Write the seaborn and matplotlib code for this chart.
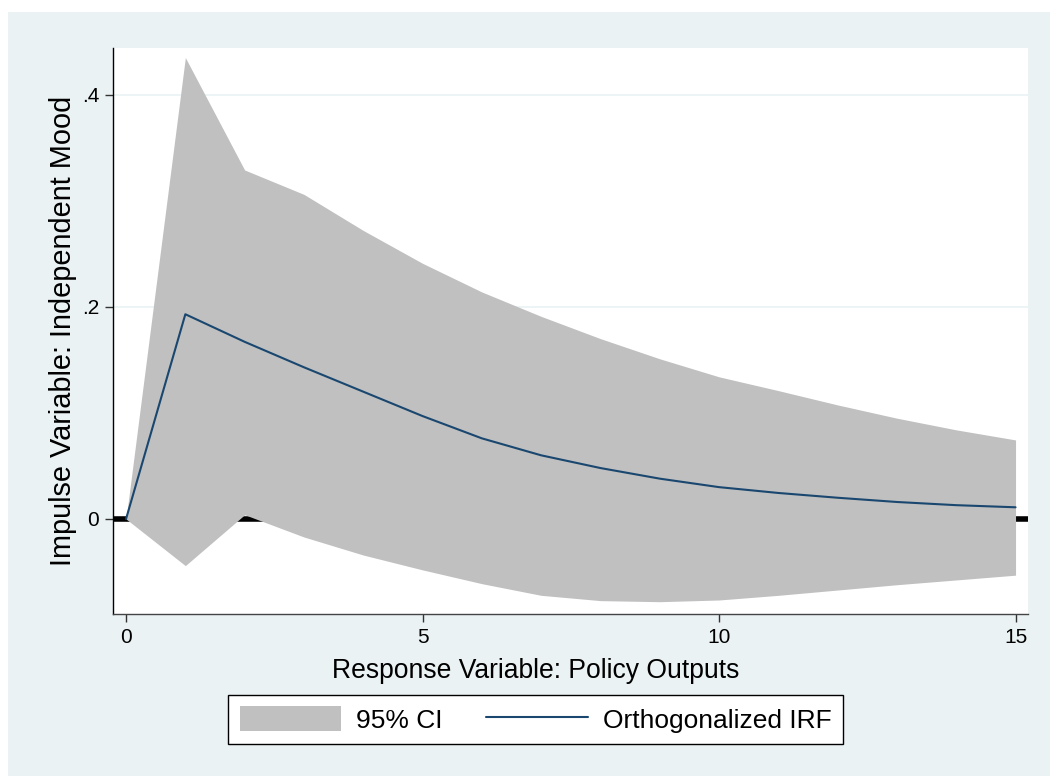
import numpy as np
import pandas as pd
import matplotlib
matplotlib.use("Agg")
import matplotlib.pyplot as plt
import seaborn as sns
from matplotlib.patches import Rectangle, Patch
from matplotlib.lines import Line2D

# impulse response, steps 0..15
steps = list(range(16))
irf = [0.0, 0.193, 0.167, 0.143, 0.120, 0.097, 0.076, 0.060, 0.048,
       0.038, 0.030, 0.0245, 0.020, 0.016, 0.013, 0.011]
ci_upper = [0.0, 0.435, 0.329, 0.306, 0.272, 0.241, 0.214, 0.191, 0.170,
            0.151, 0.134, 0.121, 0.1075, 0.095, 0.084, 0.0745]
ci_lower = [0.0, -0.044, 0.004, -0.017, -0.034, -0.048, -0.061, -0.072,
            -0.077, -0.078, -0.0764, -0.072, -0.067, -0.062, -0.0575, -0.053]
y_ticks = [0, 0.2, 0.4]
y_ticklabels = ['0', '.2', '.4']
x_ticks = [0, 5, 10, 15]

df = pd.DataFrame({'step': steps, 'irf': irf, 'lo': ci_lower, 'hi': ci_upper})

sns.set_style("white")
plt.rcParams['font.family'] = ['Liberation Sans', 'DejaVu Sans']

bg = '#EAF2F3'
fill_col = '#C0C0C0'
line_col = '#1A476F'

fig = plt.figure(figsize=(10.5, 7.76), dpi=100, facecolor='white')
fig.patches.append(Rectangle((8 / 1050, 0), 1, (776 - 12) / 776,
                             transform=fig.transFigure, facecolor=bg,
                             edgecolor='none', zorder=-10))
ax = fig.add_axes([113 / 1050, 162 / 776, (1028 - 113) / 1050, (614 - 48) / 776])
ax.set_zorder(1)
ax.set_facecolor('white')

for yv in [0.2, 0.4]:
    ax.axhline(yv, color=bg, lw=1.2, zorder=0)
ax.axhline(0, color='black', lw=4, zorder=1)

ax.fill_between(df['step'], df['lo'], df['hi'], color=fill_col, lw=0, zorder=2)
sns.lineplot(data=df, x='step', y='irf', color=line_col, lw=1.5, ax=ax, zorder=3)

ax.set_xlim(-0.22, 15.21)
ax.set_ylim(-0.0896, 0.444)
ax.set_xticks(x_ticks)
ax.set_xticklabels([str(t) for t in x_ticks], fontsize=15, color='black')
ax.set_yticks(y_ticks)
ax.set_yticklabels(y_ticklabels, fontsize=15, color='black')
ax.tick_params(axis='both', direction='out', length=6, width=1, color='#333333',
               pad=4, bottom=True, left=True)

for s in ['top', 'right']:
    ax.spines[s].set_visible(False)
ax.spines['left'].set_color('black')
ax.spines['bottom'].set_color('#444444')
ax.spines['left'].set_linewidth(1)
ax.spines['bottom'].set_linewidth(1)

ax.set_xlabel('Response Variable: Policy Outputs', fontsize=19.1, color='black')
ax.set_ylabel('Impulse Variable: Independent Mood', fontsize=20.8, color='black')
# Stata centres the x title on the whole graph region, not the plot box
ax.xaxis.set_label_coords((536 - 113) / 915, -57 / 566)
ax.xaxis.label.set_va('center')
ax.yaxis.set_label_coords(-50 / 915, 0.5)
ax.yaxis.label.set_va('center')

handles = [Patch(facecolor=fill_col, edgecolor='none'),
           Line2D([0], [0], color=line_col, lw=1.5)]
leg = fig.legend(handles, ['95% CI', 'Orthogonalized IRF'], ncol=2,
                 loc='center', bbox_to_anchor=(535.5 / 1050, (776 - 719.5) / 776),
                 fontsize=19, frameon=True, fancybox=False, edgecolor='black',
                 framealpha=1, handlelength=3.86, handleheight=1.06,
                 columnspacing=1.63, borderpad=0.42, handletextpad=0.57,
                 labelcolor='black')
leg.get_frame().set_linewidth(1)
leg.get_frame().set_facecolor('white')

fig.savefig('out.png', dpi=100, facecolor=fig.get_facecolor())
